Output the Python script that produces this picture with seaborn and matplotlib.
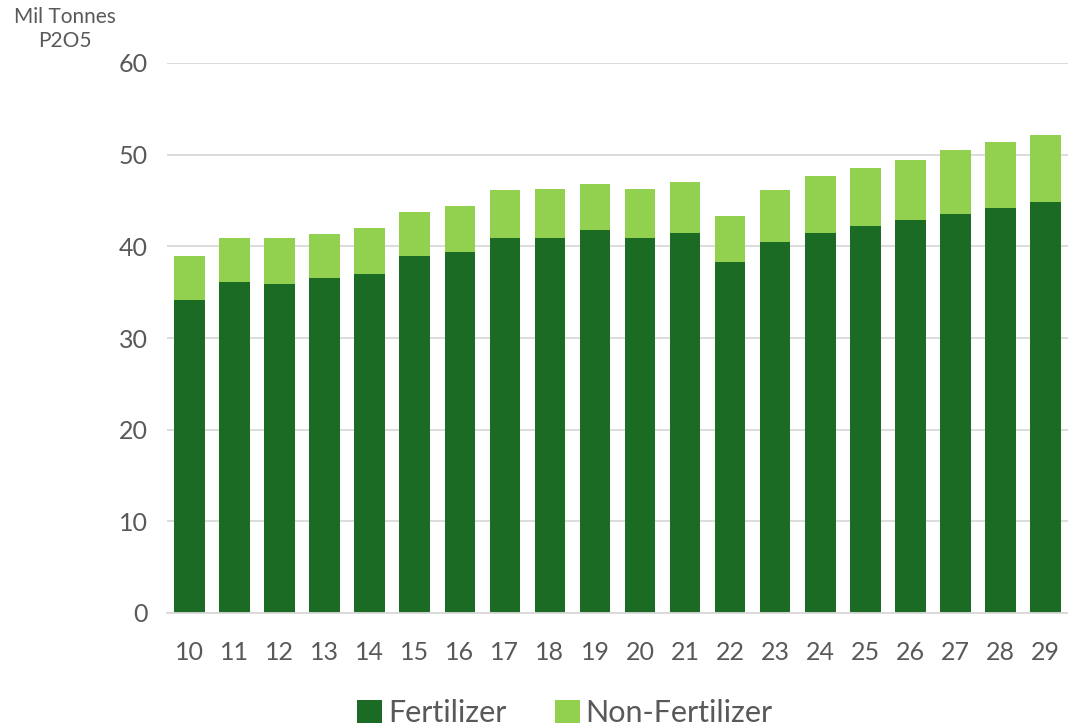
import matplotlib
matplotlib.use("Agg")
import matplotlib.pyplot as plt
import seaborn as sns
import pandas as pd
from matplotlib.patches import Patch

years = ["10", "11", "12", "13", "14", "15", "16", "17", "18", "19",
         "20", "21", "22", "23", "24", "25", "26", "27", "28", "29"]
fertilizer = [34.1, 36.1, 35.9, 36.5, 37.0, 38.9, 39.4, 40.9, 40.9, 41.8,
              40.9, 41.5, 38.3, 40.5, 41.5, 42.2, 42.9, 43.5, 44.2, 44.8]
total = [38.9, 40.9, 40.9, 41.3, 42.0, 43.7, 44.4, 46.1, 46.3, 46.8,
         46.3, 47.0, 43.3, 46.1, 47.7, 48.5, 49.4, 50.5, 51.4, 52.2]
non_fertilizer = [round(t - f, 2) for t, f in zip(total, fertilizer)]

df = pd.DataFrame({"year": years, "Fertilizer": fertilizer,
                   "Non-Fertilizer": non_fertilizer})
df["Total"] = df["Fertilizer"] + df["Non-Fertilizer"]

dark = "#1B6B24"
light = "#92D050"
txt = "#595959"

sns.set_theme(style="white")
plt.rcParams["font.family"] = ["Lato", "DejaVu Sans"]

fig = plt.figure(figsize=(10.68, 7.28), dpi=100)
ax = fig.add_axes([167 / 1068, (728 - 613) / 728, 1 - 167 / 1068, (613 - 63) / 728])

sns.barplot(data=df, x="year", y="Total", color=light, saturation=1,
            width=0.68, linewidth=0, ax=ax, zorder=3)
sns.barplot(data=df, x="year", y="Fertilizer", color=dark, saturation=1,
            width=0.68, linewidth=0, ax=ax, zorder=4)

ax.set_ylim(0, 60)
ax.set_xlim(-0.5, 19.5)
ax.set_yticks(range(0, 61, 10))
ax.yaxis.grid(True, color="#D9D9D9", linewidth=1.3, zorder=0)
ax.set_axisbelow(True)
for s in ["top", "right", "left"]:
    ax.spines[s].set_visible(False)
ax.spines["bottom"].set_color("#D9D9D9")
ax.spines["bottom"].set_linewidth(1.3)
ax.spines["bottom"].set_zorder(5)
ax.tick_params(axis="both", length=0, labelsize=18, labelcolor=txt)
ax.tick_params(axis="y", pad=14)
ax.tick_params(axis="x", pad=20)
ax.set_xlabel("")
ax.set_ylabel("")

fig.text(65 / 1068, 1 - 17 / 728, "Mil Tonnes", ha="center", va="center",
         fontsize=15, color=txt)
fig.text(65 / 1068, 1 - 41 / 728, "P2O5", ha="center", va="center",
         fontsize=15, color=txt)

handles = [Patch(facecolor=dark, edgecolor="none"),
           Patch(facecolor=light, edgecolor="none")]
leg = fig.legend(handles, ["Fertilizer", "Non-Fertilizer"], loc="center",
                 bbox_to_anchor=(565 / 1068, 1 - 713 / 728), ncol=2,
                 frameon=False, fontsize=22, handlelength=0.8, handleheight=0.8,
                 handletextpad=0.2, columnspacing=1.6, borderaxespad=0)
for t in leg.get_texts():
    t.set_color(txt)

fig.savefig("out.png", dpi=100)
